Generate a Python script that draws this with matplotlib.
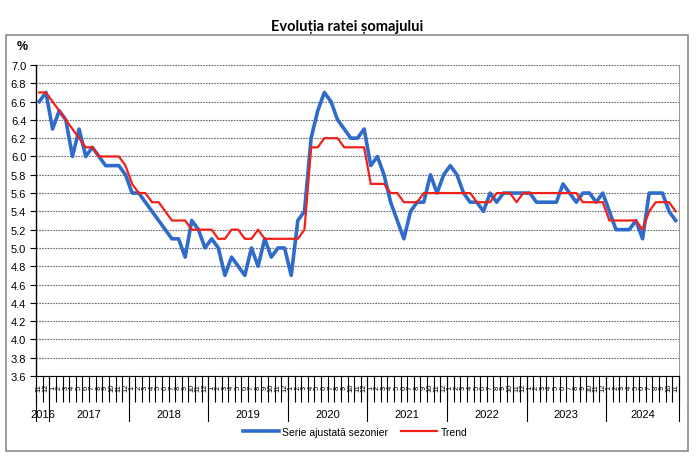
import matplotlib
matplotlib.use("Agg")
import matplotlib.pyplot as plt
import numpy as np
from matplotlib.lines import Line2D
from matplotlib.patches import Rectangle

plt.rcParams['font.family'] = ['Liberation Sans', 'DejaVu Sans']

# monthly data, Nov 2016 .. Nov 2024
years = [2016, 2017, 2018, 2019, 2020, 2021, 2022, 2023, 2024]
months_per_year = [2, 12, 12, 12, 12, 12, 12, 12, 11]
month_labels = ['11', '12'] + [str(m) for m in range(1, 13)] * 7 + [str(m) for m in range(1, 12)]

serie = [6.6, 6.7, 6.3, 6.5, 6.4, 6.0, 6.3, 6.0, 6.1, 6.0, 5.9, 5.9, 5.9, 5.8,
         5.6, 5.6, 5.5, 5.4, 5.3, 5.2, 5.1, 5.1, 4.9, 5.3, 5.2, 5.0,
         5.1, 5.0, 4.7, 4.9, 4.8, 4.7, 5.0, 4.8, 5.1, 4.9, 5.0, 5.0,
         4.7, 5.3, 5.4, 6.2, 6.5, 6.7, 6.6, 6.4, 6.3, 6.2, 6.2, 6.3,
         5.9, 6.0, 5.8, 5.5, 5.3, 5.1, 5.4, 5.5, 5.5, 5.8, 5.6, 5.8,
         5.9, 5.8, 5.6, 5.5, 5.5, 5.4, 5.6, 5.5, 5.6, 5.6, 5.6, 5.6,
         5.6, 5.5, 5.5, 5.5, 5.5, 5.7, 5.6, 5.5, 5.6, 5.6, 5.5, 5.6,
         5.4, 5.2, 5.2, 5.2, 5.3, 5.1, 5.6, 5.6, 5.6, 5.4, 5.3]

trend = [6.7, 6.7, 6.6, 6.5, 6.4, 6.3, 6.2, 6.1, 6.1, 6.0, 6.0, 6.0, 6.0, 5.9,
         5.7, 5.6, 5.6, 5.5, 5.5, 5.4, 5.3, 5.3, 5.3, 5.2, 5.2, 5.2,
         5.2, 5.1, 5.1, 5.2, 5.2, 5.1, 5.1, 5.2, 5.1, 5.1, 5.1, 5.1,
         5.1, 5.1, 5.2, 6.1, 6.1, 6.2, 6.2, 6.2, 6.1, 6.1, 6.1, 6.1,
         5.7, 5.7, 5.7, 5.6, 5.6, 5.5, 5.5, 5.5, 5.6, 5.6, 5.6, 5.6,
         5.6, 5.6, 5.6, 5.6, 5.5, 5.5, 5.5, 5.6, 5.6, 5.6, 5.5, 5.6,
         5.6, 5.6, 5.6, 5.6, 5.6, 5.6, 5.6, 5.6, 5.5, 5.5, 5.5, 5.5,
         5.3, 5.3, 5.3, 5.3, 5.3, 5.2, 5.4, 5.5, 5.5, 5.5, 5.4]

blue = '#2F6BCB'
red = '#F0201A'

fig = plt.figure(figsize=(6.96, 4.64), dpi=100)
ax = fig.add_axes([36/696, 87/464, 643/696, 311/464])

x = np.arange(len(serie))
ax.plot(x, serie, color=blue, lw=2.6, solid_joinstyle='round', zorder=3)
ax.plot(x, trend, color=red, lw=1.6, solid_joinstyle='round', zorder=4)

ax.set_xlim(-0.5, len(serie) - 0.5)
ax.set_ylim(3.6, 7.0)
ax.set_yticks(np.arange(3.6, 7.01, 0.2))
ax.set_yticklabels(['%.1f' % v for v in np.arange(3.6, 7.01, 0.2)], fontsize=8)
ax.yaxis.grid(True, color='#6a6a6a', linestyle=(0, (1.5, 1)), lw=0.8)
ax.tick_params(axis='y', length=4, width=0.8, direction='out', pad=3)

ax.spines['top'].set_visible(False)
ax.spines['right'].set_color('#999999')
ax.spines['bottom'].set_color('black')
ax.spines['left'].set_linewidth(1.0)

# month ticks and labels
ax.set_xticks(np.arange(-0.5, len(serie), 1.0))
ax.set_xticklabels([])
ax.tick_params(axis='x', length=19, width=0.8, direction='out')
for i, lab in enumerate(month_labels):
    ax.text(i, -0.035, lab, rotation=90, ha='center', va='center', fontsize=5.5,
            transform=ax.get_xaxis_transform(), clip_on=False)

# year separators and labels
start = 0
bounds = [-0.5]
for yr, n in zip(years, months_per_year):
    ax.text(start + n / 2 - 0.5, -0.122, str(yr), ha='center', va='center', fontsize=8,
            transform=ax.get_xaxis_transform())
    start += n
    bounds.append(start - 0.5)
for b in bounds:
    ax.plot([b, b], [0, -0.145], color='black', lw=0.8,
            transform=ax.get_xaxis_transform(), clip_on=False)

fig.text(22/696, 1 - 47/464, '%', fontsize=9, fontweight='bold', ha='center', va='center')
fig.text(347/696, 1 - 27/464, 'Evoluția ratei șomajului', fontsize=10.5, fontweight='bold',
         ha='center', va='center', family=['Lato', 'DejaVu Sans'])

handles = [Line2D([], [], color=blue, lw=2.6), Line2D([], [], color=red, lw=1.6)]
fig.legend(handles, ['Serie ajustată sezonier', 'Trend'], loc='center',
           bbox_to_anchor=(355/696, 1 - 433/464), ncol=2, frameon=False, fontsize=7.5,
           handlelength=3.5, handletextpad=0.3, columnspacing=1.2)

fig.patches.append(Rectangle((6/696, 12/464), 682/696, 416/464, transform=fig.transFigure,
                             fill=False, edgecolor='#8a8a8a', lw=1.2))

fig.savefig('out.png', dpi=100)
